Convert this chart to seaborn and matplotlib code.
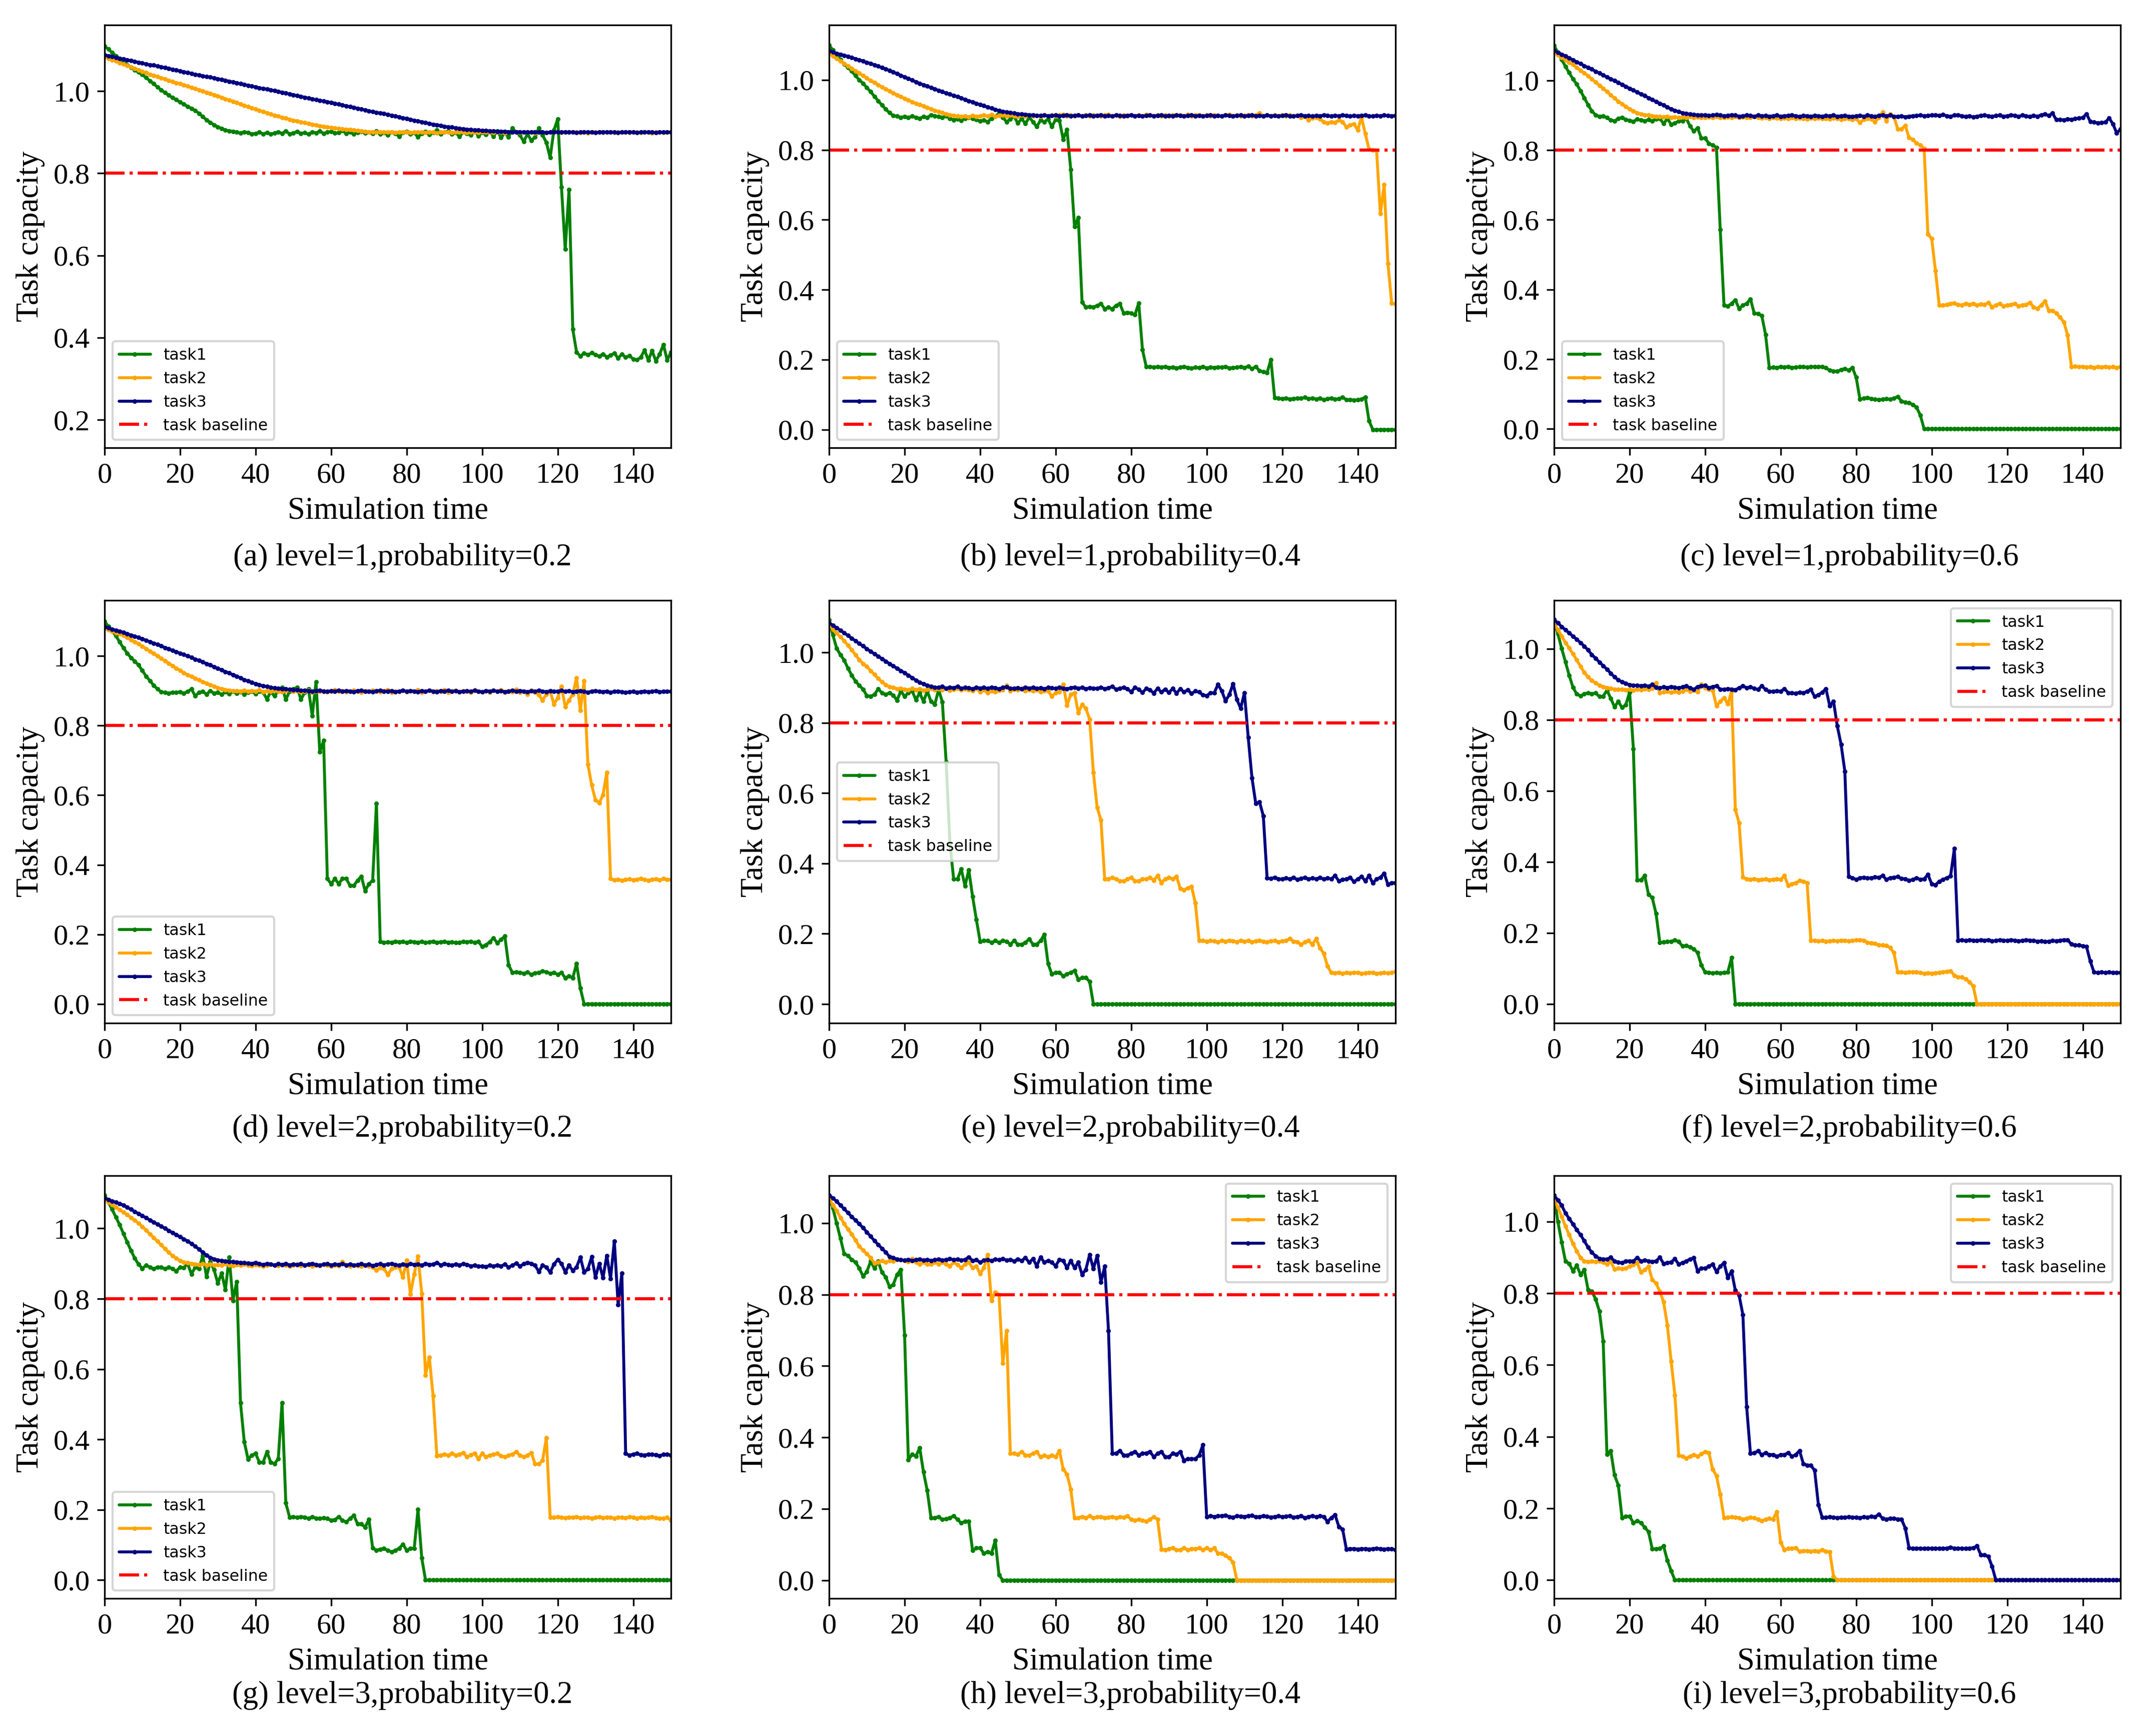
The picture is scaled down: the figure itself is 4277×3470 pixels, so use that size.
import numpy as np
import pandas as pd
import matplotlib
matplotlib.use("Agg")
import matplotlib.pyplot as plt
from matplotlib.ticker import MultipleLocator
import seaborn as sns

# 任务承载能力随仿真时间变化，数值单位为千分之一
# (a) level=1, probability=0.2
a_task1 = [1110,1102,1094,1086,1079,1071,1064,1058,1052,1046,
           1040,1033,1025,1018,1010,1003,996,990,984,979,
           973,968,963,958,953,946,938,930,924,918,
           913,909,905,903,902,900,898,901,899,896,
           897,900,896,899,895,898,901,897,903,896,
           898,902,897,899,895,901,898,903,897,900,
           902,898,899,904,897,901,896,899,902,898,
           900,897,903,895,899,893,901,897,890,899,
           902,895,899,888,897,902,894,899,905,896,
           900,903,895,899,889,901,897,893,903,891,
           899,894,902,890,903,887,898,888,910,900,
           893,877,896,880,888,910,893,875,838,905,
           932,766,615,760,420,365,355,362,358,363,
           358,355,360,353,357,362,350,360,352,356,
           348,346,352,370,345,368,343,360,383,345,
           365]
a_task2 = [1083,1080,1076,1073,1069,1066,1062,1059,1055,1052,
           1048,1045,1041,1038,1035,1032,1029,1026,1023,1020,
           1018,1015,1012,1009,1006,1003,1000,997,994,991,
           988,985,981,978,975,972,968,965,962,959,
           956,953,950,947,944,941,939,936,934,931,
           929,927,925,923,921,919,917,915,914,912,
           911,910,909,908,907,906,905,904,903,902,
           901,901,900,900,900,900,901,899,900,900,
           900,899,900,901,900,899,900,900,898,900,
           901,900,899,900,900,901,899,900,900,899,
           900,901,900,899,900,900,898,900,901,900,
           899,900,900,901,898,900,900,899,900,901,
           900,899,900,900,901,900,899,900,898,900,
           900,901,899,900,900,899,900,901,900,899,
           900,900,899,901,900,898,900,900,899,900,
           900]
a_task3 = [1088,1086,1084,1082,1080,1078,1076,1074,1072,1070,
           1068,1066,1064,1063,1061,1059,1057,1055,1053,1051,
           1049,1047,1045,1043,1041,1039,1037,1035,1034,1032,
           1030,1028,1026,1024,1022,1020,1018,1016,1014,1012,
           1010,1008,1006,1005,1003,1001,999,997,995,993,
           991,989,987,985,983,981,979,977,976,974,
           972,970,968,966,964,962,960,958,956,954,
           952,950,948,947,945,943,941,939,937,935,
           933,931,929,927,925,923,921,919,918,916,
           914,913,912,910,909,908,907,906,905,905,
           904,904,903,903,902,902,902,901,901,901,
           901,900,900,900,901,900,900,899,900,901,
           900,900,901,900,900,899,900,901,900,900,
           899,900,900,901,900,900,899,900,900,901,
           900,899,900,901,900,900,899,900,900,900,
           900]

# (b) level=1, probability=0.4
b_task1 = [1100,1085,1070,1058,1045,1035,1025,1012,1000,990,
           978,966,953,940,928,916,906,898,896,893,
           895,892,896,893,890,895,892,900,897,895,
           893,897,890,885,888,884,890,893,889,886,
           882,885,880,890,895,905,893,880,888,895,
           876,889,875,893,880,866,885,880,888,866,
           887,884,830,858,744,580,606,364,350,352,
           350,355,360,345,350,345,355,360,333,335,
           333,328,362,228,180,180,178,180,178,180,
           177,178,176,178,180,177,175,178,177,180,
           176,178,177,179,178,180,176,177,178,180,
           177,181,174,180,168,165,163,200,91,90,
           88,90,87,88,90,89,92,88,90,87,
           90,85,88,90,87,88,93,85,86,84,
           85,87,93,25,0,0,0,0,0,0,
           0]
b_task2 = [1075,1068,1061,1054,1047,1040,1033,1026,1019,1012,
           1005,998,992,986,980,974,968,962,957,952,
           947,942,937,933,929,925,921,917,913,909,
           906,903,900,898,896,895,896,894,898,895,
           897,899,896,901,895,898,900,896,899,897,
           895,899,897,900,896,898,895,900,897,899,
           896,899,901,897,899,896,900,897,899,896,
           900,898,896,899,901,897,899,895,899,897,
           900,896,899,897,901,898,896,900,897,899,
           896,900,898,899,896,901,897,899,900,897,
           899,896,900,898,896,899,901,897,899,896,
           898,900,896,899,905,897,899,896,899,897,
           900,896,899,897,898,893,895,885,891,893,
           888,880,877,880,878,885,880,865,871,874,
           857,893,846,802,800,798,617,700,475,361,
           360]
b_task3 = [1083,1080,1076,1073,1070,1067,1064,1060,1057,1054,
           1050,1047,1043,1039,1035,1031,1027,1022,1018,1013,
           1008,1004,999,994,990,986,982,978,974,970,
           966,962,959,955,952,948,944,940,937,933,
           929,926,922,919,915,912,910,908,906,905,
           903,902,901,900,899,898,898,899,897,898,
           899,897,898,900,897,898,899,896,898,899,
           897,898,899,897,898,896,899,898,897,898,
           899,897,898,896,898,899,897,898,899,896,
           898,897,899,898,896,898,899,897,898,896,
           898,899,897,898,896,899,898,897,898,899,
           896,898,899,897,898,896,899,897,898,896,
           898,899,897,896,898,899,897,898,896,898,
           897,899,898,896,898,897,899,898,896,898,
           897,898,899,897,896,898,897,899,898,897,
           898]

# (c) level=1, probability=0.6
c_task1 = [1100,1080,1060,1040,1022,1004,989,970,950,930,
           912,901,896,898,893,886,884,890,894,888,
           885,882,889,886,884,887,884,889,891,876,
           890,874,878,883,884,891,869,854,864,834,
           834,819,814,808,572,355,352,360,370,345,
           355,360,373,332,330,325,271,175,177,176,
           178,177,179,176,177,178,178,177,178,179,
           178,179,175,168,166,165,170,173,168,176,
           148,85,88,90,86,85,84,85,86,85,
           88,93,80,76,75,70,62,39,0,0,
           0,0,0,0,0,0,0,0,0,0,
           0,0,0,0,0,0,0,0,0,0,
           0,0,0,0,0,0,0,0,0,0,
           0,0,0,0,0,0,0,0,0,0,
           0,0,0,0,0,0,0,0,0,0,
           0]
c_task2 = [1080,1073,1066,1059,1052,1045,1037,1029,1021,1013,
           1004,995,986,977,968,958,949,940,932,925,
           918,912,907,903,901,900,898,897,896,895,
           896,894,895,893,895,894,896,893,895,894,
           893,895,894,896,893,894,895,893,896,894,
           895,893,894,896,893,892,894,891,893,892,
           890,892,891,893,890,892,891,889,892,890,
           892,890,891,889,892,890,888,891,890,888,
           890,879,888,890,889,881,893,909,884,904,
           895,861,860,871,836,830,820,814,805,559,
           546,454,355,355,356,360,361,356,355,360,
           357,360,355,358,357,362,350,355,360,352,
           355,356,360,352,355,357,362,350,345,355,
           367,340,340,332,320,307,269,178,180,178,
           179,177,178,176,178,177,179,177,178,176,
           178]
c_task3 = [1086,1080,1075,1070,1064,1059,1053,1048,1042,1037,
           1032,1026,1021,1015,1010,1004,999,994,988,983,
           977,972,966,961,956,950,945,939,934,929,
           923,918,914,910,907,905,903,902,901,900,
           901,899,900,902,900,898,899,901,900,897,
           898,900,899,897,900,898,899,897,898,900,
           897,898,899,900,898,896,899,898,897,899,
           898,897,899,898,900,897,898,899,897,896,
           898,899,897,900,898,896,899,901,898,900,
           897,896,898,895,897,898,899,900,898,899,
           900,901,899,902,898,897,900,901,898,896,
           898,895,897,899,900,898,896,899,900,897,
           898,901,899,897,900,898,896,899,897,901,
           903,899,906,887,888,886,889,888,890,892,
           893,904,882,880,878,879,880,892,875,849,
           860]

# (d) level=2, probability=0.2
d_task1 = [1100,1085,1072,1058,1040,1023,1008,995,985,974,
           958,942,929,916,905,897,895,893,896,895,
           897,893,898,905,885,895,898,890,900,893,
           896,889,897,891,899,893,897,890,895,898,
           891,899,895,876,897,885,900,910,875,898,
           905,910,875,895,905,828,926,724,757,360,
           345,360,345,360,360,340,340,355,367,325,
           345,355,576,180,176,178,177,180,178,179,
           176,180,178,177,179,176,178,180,177,178,
           179,177,178,176,177,179,178,180,176,179,
           165,170,178,190,175,185,195,112,90,92,
           90,88,91,85,89,90,94,92,88,90,
           85,90,75,80,75,116,45,0,0,0,
           0,0,0,0,0,0,0,0,0,0,
           0,0,0,0,0,0,0,0,0,0,
           0]
d_task2 = [1079,1075,1071,1067,1063,1059,1053,1047,1041,1035,
           1028,1021,1014,1007,1000,993,986,979,972,965,
           958,952,946,941,936,931,926,921,917,913,
           909,905,903,901,900,900,899,901,898,900,
           899,902,897,900,898,901,899,897,900,902,
           898,900,897,899,901,896,899,898,900,897,
           899,902,898,900,897,899,901,898,896,900,
           898,901,899,897,900,903,896,899,898,901,
           897,900,898,902,896,899,901,897,900,898,
           903,896,899,901,897,900,898,895,902,899,
           897,900,896,901,899,903,895,900,897,904,
           896,899,890,901,895,888,873,890,900,861,
           880,913,854,873,890,937,844,928,689,629,
           586,578,601,665,360,356,358,355,357,359,
           356,358,360,357,355,358,359,356,360,357,
           358]
d_task3 = [1084,1081,1077,1074,1071,1068,1064,1060,1057,1053,
           1049,1045,1041,1037,1033,1029,1024,1020,1016,1012,
           1008,1004,1000,996,991,987,983,978,974,969,
           964,960,955,951,946,942,937,932,928,924,
           920,917,914,912,910,908,907,906,905,904,
           903,902,901,901,900,899,900,901,899,898,
           900,899,901,898,900,899,897,900,901,898,
           899,897,900,901,898,899,900,897,899,901,
           898,900,899,897,900,898,901,899,897,900,
           899,901,898,900,897,899,900,898,901,899,
           897,900,899,901,898,900,897,899,901,898,
           900,899,897,900,898,901,899,897,900,898,
           899,901,898,900,897,899,900,898,896,899,
           900,898,897,899,896,898,899,897,895,897,
           898,896,897,899,897,898,900,897,898,899,
           898]

# (e) level=2, probability=0.4
e_task1 = [1092,1050,1012,993,978,955,935,918,906,895,
           877,875,880,896,885,880,885,878,864,890,
           875,885,890,865,885,860,890,860,852,894,
           859,689,457,355,355,384,336,381,306,241,
           178,180,180,175,180,175,180,178,170,180,
           170,170,175,185,170,170,180,198,115,85,
           90,90,80,85,90,95,70,75,75,64,
           0,0,0,0,0,0,0,0,0,0,
           0,0,0,0,0,0,0,0,0,0,
           0,0,0,0,0,0,0,0,0,0,
           0,0,0,0,0,0,0,0,0,0,
           0,0,0,0,0,0,0,0,0,0,
           0,0,0,0,0,0,0,0,0,0,
           0,0,0,0,0,0,0,0,0,0,
           0,0,0,0,0,0,0,0,0,0,
           0]
e_task2 = [1078,1066,1055,1044,1033,1020,1007,993,979,968,
           960,948,937,926,916,908,902,900,896,897,
           895,893,897,894,896,892,895,897,893,896,
           894,897,892,895,898,893,896,894,891,897,
           888,893,885,890,887,892,894,906,890,895,
           893,897,891,894,890,893,888,891,890,875,
           885,888,909,849,880,885,828,852,841,810,
           658,559,523,355,356,360,355,350,350,355,
           360,350,350,355,355,360,352,365,345,355,
           360,356,363,329,325,330,334,287,180,180,
           178,180,179,177,180,178,181,179,177,180,
           178,180,177,179,181,178,176,179,180,177,
           179,180,186,178,177,170,176,180,170,186,
           160,144,108,89,88,90,87,89,88,90,
           89,87,88,90,89,87,88,89,88,90,
           92]
e_task3 = [1084,1077,1070,1063,1055,1048,1040,1033,1025,1018,
           1010,1003,996,989,982,975,968,961,955,948,
           942,935,928,921,915,910,906,903,901,900,
           903,898,901,899,903,897,900,899,896,901,
           898,900,897,901,899,896,900,902,898,897,
           899,896,901,898,900,897,899,896,900,899,
           897,900,898,896,899,901,897,900,896,899,
           898,897,901,896,899,903,895,898,900,896,
           888,900,895,886,897,893,884,898,887,895,
           886,897,884,896,888,893,883,890,887,879,
           877,885,885,909,890,862,880,911,866,841,
           885,758,643,570,575,535,358,357,360,356,
           355,358,356,360,354,357,360,355,358,356,
           360,355,358,356,365,350,354,355,360,348,
           355,363,350,365,344,356,360,372,340,345,
           345]

# (f) level=2, probability=0.6
f_task1 = [1079,1042,1001,963,925,891,872,867,873,875,
           873,875,865,866,883,860,836,851,834,842,
           877,718,349,349,361,308,299,254,173,174,
           175,176,180,175,163,164,160,155,144,109,
           89,88,87,88,87,88,89,130,0,0,
           0,0,0,0,0,0,0,0,0,0,
           0,0,0,0,0,0,0,0,0,0,
           0,0,0,0,0,0,0,0,0,0,
           0,0,0,0,0,0,0,0,0,0,
           0,0,0,0,0,0,0,0,0,0,
           0,0,0,0,0,0,0,0,0,0,
           0,0,0,0,0,0,0,0,0,0,
           0,0,0,0,0,0,0,0,0,0,
           0,0,0,0,0,0,0,0,0,0,
           0,0,0,0,0,0,0,0,0,0,
           0]
f_task2 = [1071,1053,1035,1017,1002,985,968,950,933,920,
           910,903,897,893,890,888,886,885,886,884,
           885,883,886,884,887,885,888,903,875,878,
           880,877,879,877,880,885,880,882,878,899,
           890,885,883,839,851,862,844,880,547,509,
           357,351,350,352,349,350,351,349,350,352,
           350,361,333,338,340,347,345,341,179,178,
           177,178,176,177,178,177,179,178,177,178,
           180,180,179,173,171,170,166,165,164,158,
           144,89,89,88,89,90,89,88,85,87,
           86,87,88,90,91,93,80,75,75,70,
           62,50,0,0,0,0,0,0,0,0,
           0,0,0,0,0,0,0,0,0,0,
           0,0,0,0,0,0,0,0,0,0,
           0,0,0,0,0,0,0,0,0,0,
           0]
f_task3 = [1082,1072,1062,1053,1044,1035,1026,1017,1007,996,
           983,973,962,952,942,931,920,912,906,902,
           898,896,897,895,897,894,899,891,889,892,
           890,893,891,889,892,895,890,885,893,895,
           896,890,893,895,886,885,887,886,884,890,
           895,890,892,888,885,895,885,880,879,881,
           880,887,876,875,874,877,875,880,885,865,
           870,877,887,839,852,782,731,655,359,355,
           350,355,356,354,355,357,356,361,350,355,
           356,358,353,352,347,350,355,350,352,364,
           338,335,345,350,355,360,437,179,180,178,
           180,179,178,180,179,180,177,178,180,179,
           178,180,179,177,178,180,179,178,176,177,
           175,176,178,177,179,180,180,168,165,165,
           163,161,120,89,88,89,88,89,88,88,
           88]

# (g) level=3, probability=0.2
g_task1 = [1095,1075,1054,1032,1010,985,961,937,915,898,
           886,895,890,885,890,890,885,890,885,879,
           890,888,900,870,890,885,923,863,905,882,
           844,873,826,918,795,849,504,393,344,355,
           360,335,335,365,335,331,345,504,219,179,
           180,178,180,179,175,180,176,175,177,175,
           170,172,180,170,165,175,184,160,160,150,
           173,91,85,88,90,85,80,85,90,102,
           85,90,90,201,63,0,0,0,0,0,
           0,0,0,0,0,0,0,0,0,0,
           0,0,0,0,0,0,0,0,0,0,
           0,0,0,0,0,0,0,0,0,0,
           0,0,0,0,0,0,0,0,0,0,
           0,0,0,0,0,0,0,0,0,0,
           0,0,0,0,0,0,0,0,0,0,
           0]
g_task2 = [1081,1074,1067,1060,1053,1046,1039,1031,1023,1015,
           1005,995,984,974,963,953,942,932,922,915,
           908,904,902,900,898,897,899,896,898,895,
           897,895,899,896,894,897,895,898,896,894,
           897,895,893,896,898,895,894,897,895,893,
           896,898,894,895,897,893,896,894,898,895,
           893,896,894,905,895,893,896,894,892,895,
           893,890,881,888,886,868,885,890,890,861,
           909,813,870,921,815,583,634,524,354,355,
           358,355,360,355,357,362,350,356,360,345,
           360,350,355,357,360,353,350,355,358,365,
           355,350,355,362,331,330,340,405,179,178,
           180,178,177,179,178,180,177,178,179,176,
           178,180,177,179,178,176,179,178,177,180,
           178,176,179,177,178,180,177,175,176,178,
           170]
g_task3 = [1086,1082,1078,1074,1070,1066,1060,1054,1048,1042,
           1036,1030,1024,1018,1012,1006,1000,994,988,982,
           976,970,964,957,949,941,932,924,917,913,
           910,908,907,906,905,904,903,902,901,900,
           903,899,897,900,898,896,899,897,900,896,
           898,897,899,896,898,900,897,895,898,899,
           896,898,897,899,896,898,895,897,899,896,
           898,894,897,899,896,898,900,897,895,898,
           896,899,897,898,895,900,897,898,903,896,
           899,897,895,898,896,899,897,893,895,892,
           893,891,895,892,896,893,898,890,895,901,
           893,899,903,900,895,877,895,890,875,898,
           911,900,876,895,880,890,918,875,885,919,
           861,900,860,923,857,964,783,873,360,355,
           358,360,356,355,358,357,356,354,357,358,
           355]

# (h) level=3, probability=0.4
h_task1 = [1073,1042,1000,958,914,909,898,890,874,851,
           864,893,874,893,862,849,822,828,856,870,
           686,337,353,347,371,303,251,174,175,178,
           170,172,175,180,170,160,165,165,83,90,
           90,75,80,75,111,15,0,0,0,0,
           0,0,0,0,0,0,0,0,0,0,
           0,0,0,0,0,0,0,0,0,0,
           0,0,0,0,0,0,0,0,0,0,
           0,0,0,0,0,0,0,0,0,0,
           0,0,0,0,0,0,0,0,0,0,
           0,0,0,0,0,0,0,0,0,0,
           0,0,0,0,0,0,0,0,0,0,
           0,0,0,0,0,0,0,0,0,0,
           0,0,0,0,0,0,0,0,0,0,
           0,0,0,0,0,0,0,0,0,0,
           0]
h_task2 = [1068,1051,1035,1016,998,983,969,952,935,924,
           914,903,888,890,895,890,895,893,898,898,
           895,892,900,890,885,890,885,885,890,885,
           890,885,880,890,884,875,885,890,875,880,
           858,875,912,783,807,800,608,699,355,355,
           352,360,350,350,355,360,345,350,345,350,
           345,363,311,297,255,174,175,178,175,180,
           175,177,178,175,176,178,174,177,176,180,
           170,168,170,168,165,170,178,170,87,85,
           88,90,85,85,90,85,88,88,90,85,
           90,85,90,75,75,69,62,50,0,0,
           0,0,0,0,0,0,0,0,0,0,
           0,0,0,0,0,0,0,0,0,0,
           0,0,0,0,0,0,0,0,0,0,
           0,0,0,0,0,0,0,0,0,0,
           0]
h_task3 = [1079,1070,1061,1050,1040,1029,1018,1008,998,987,
           975,963,951,940,929,919,906,903,899,897,
           896,898,895,897,899,896,898,895,897,899,
           896,898,900,897,899,896,898,905,895,897,
           890,896,898,895,899,897,900,896,898,894,
           899,895,903,890,900,880,905,890,895,890,
           880,898,895,875,895,875,890,856,870,912,
           872,909,835,879,699,355,355,363,350,350,
           355,360,350,355,356,360,345,355,360,345,
           345,355,352,360,335,340,340,340,350,379,
           177,180,178,180,180,182,178,176,180,179,
           178,180,181,177,178,180,179,176,178,180,
           177,179,180,176,178,180,175,178,180,177,
           180,178,164,175,183,150,143,87,88,88,
           87,88,88,87,88,89,88,87,88,88,
           85]

# (i) level=3, probability=0.6
i_task1 = [1071,1000,943,890,883,862,878,852,865,810,
           805,784,750,666,351,361,293,265,173,178,
           178,160,165,160,147,135,87,87,88,95,
           55,26,0,0,0,0,0,0,0,0,
           0,0,0,0,0,0,0,0,0,0,
           0,0,0,0,0,0,0,0,0,0,
           0,0,0,0,0,0,0,0,0,0,
           0,0,0,0,0,0,0,0,0,0,
           0,0,0,0,0,0,0,0,0,0,
           0,0,0,0,0,0,0,0,0,0,
           0,0,0,0,0,0,0,0,0,0,
           0,0,0,0,0,0,0,0,0,0,
           0,0,0,0,0,0,0,0,0,0,
           0,0,0,0,0,0,0,0,0,0,
           0,0,0,0,0,0,0,0,0,0,
           0]
i_task2 = [1061,1040,1014,987,963,938,918,899,890,888,
           889,888,890,887,881,888,867,870,868,870,
           875,880,885,859,865,875,838,828,805,776,
           711,610,516,348,345,340,345,350,345,352,
           358,355,309,291,239,173,175,176,175,174,
           170,172,175,173,170,165,170,172,170,191,
           105,85,88,88,90,80,82,81,80,82,
           80,85,80,79,11,0,0,0,0,0,
           0,0,0,0,0,0,0,0,0,0,
           0,0,0,0,0,0,0,0,0,0,
           0,0,0,0,0,0,0,0,0,0,
           0,0,0,0,0,0,0,0,0,0,
           0,0,0,0,0,0,0,0,0,0,
           0,0,0,0,0,0,0,0,0,0,
           0,0,0,0,0,0,0,0,0,0,
           0]
i_task3 = [1073,1060,1045,1024,1008,993,977,963,946,928,
           914,904,897,895,895,900,890,886,885,890,
           890,890,899,890,892,890,888,890,900,883,
           885,887,896,881,885,890,895,899,862,870,
           870,875,881,860,875,885,843,862,808,794,
           740,483,353,355,360,350,355,350,350,345,
           350,350,355,345,350,361,325,320,320,306,
           210,175,175,176,175,174,175,175,176,175,
           175,174,176,175,178,176,184,172,170,172,
           172,170,170,145,90,88,89,88,88,89,
           88,89,88,88,89,92,88,89,88,88,
           89,90,95,71,70,66,38,0,0,0,
           0,0,0,0,0,0,0,0,0,0,
           0,0,0,0,0,0,0,0,0,0,
           0,0,0,0,0,0,0,0,0,0,
           0]

baseline = 0.8
task_names = ["task1", "task2", "task3"]
task_colors = ["green", "orange", "navy"]

panels = [
    ("a", 1, 0.2, [a_task1, a_task2, a_task3], (0.132, 1.161), "lower left"),
    ("b", 1, 0.4, [b_task1, b_task2, b_task3], (-0.052, 1.157), "lower left"),
    ("c", 1, 0.6, [c_task1, c_task2, c_task3], (-0.054, 1.159), "lower left"),
    ("d", 2, 0.2, [d_task1, d_task2, d_task3], (-0.055, 1.160), "lower left"),
    ("e", 2, 0.4, [e_task1, e_task2, e_task3], (-0.054, 1.148), "center left"),
    ("f", 2, 0.6, [f_task1, f_task2, f_task3], (-0.054, 1.136), "upper right"),
    ("g", 3, 0.2, [g_task1, g_task2, g_task3], (-0.052, 1.150), "lower left"),
    ("h", 3, 0.4, [h_task1, h_task2, h_task3], (-0.051, 1.133), "upper right"),
    ("i", 3, 0.6, [i_task1, i_task2, i_task3], (-0.051, 1.128), "upper right"),
]

sns.set_style("ticks", {"axes.edgecolor": "black", "xtick.color": "black",
                        "ytick.color": "black", "text.color": "black",
                        "axes.labelcolor": "black"})
plt.rcParams["font.family"] = ["Liberation Serif", "DejaVu Serif"]

W, H = 4277, 3470
fig = plt.figure(figsize=(W / 300, H / 300), dpi=300)

col_left = [209, 1657, 3106]
row_bottom = [895, 2045, 3195]
aw, ah = 1132, 845
cap_x = [804, 2259, 3696]
cap_y = [1115, 2257, 3389]

for k, (letter, level, prob, series, ylim, loc) in enumerate(panels):
    r, c = divmod(k, 3)
    ax = fig.add_axes([col_left[c] / W, 1 - row_bottom[r] / H, aw / W, ah / H])
    for name, color, vals in zip(task_names, task_colors, series):
        y = np.array(vals) / 1000.0
        t = np.arange(len(y))
        sns.lineplot(x=t, y=y, ax=ax, color=color, label=name, marker=".",
                     markersize=3.4, markeredgewidth=0.5,
                     markeredgecolor=color, markerfacecolor=color,
                     linewidth=1.4)
    ax.axhline(baseline, color="red", linestyle="-.", linewidth=1.5,
               label="task baseline")
    ax.set_xlim(0, 150)
    ax.set_ylim(*ylim)
    ax.set_xticks(range(0, 141, 20))
    ax.yaxis.set_major_locator(MultipleLocator(0.2))
    ax.tick_params(labelsize=14)
    ax.set_xlabel("Simulation time", fontsize=15)
    ax.set_ylabel("Task capacity", fontsize=15)
    ax.legend(loc=loc, prop={"family": "DejaVu Sans", "size": 7.6})
    fig.text(cap_x[c] / W, 1 - cap_y[r] / H,
             f"({letter}) level={level},probability={prob}",
             ha="center", va="center", fontsize=15)

fig.savefig("out.png", dpi=300)
